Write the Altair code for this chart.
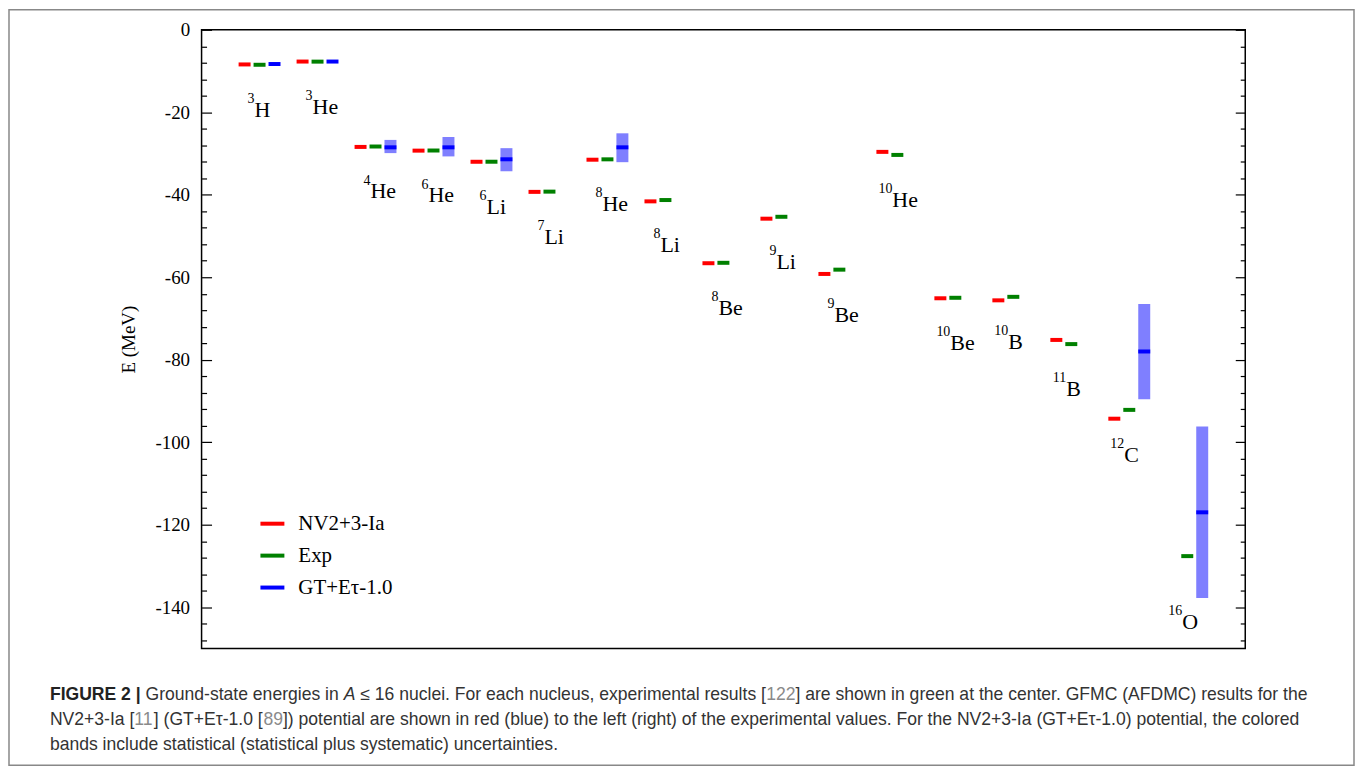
import altair as alt
import pandas as pd

# ---------------- data ----------------
mass_numbers = ["3", "3", "4", "6", "6", "7", "8", "8", "8", "9", "9", "10", "10", "10", "11", "12", "16"]
elements = ["H", "He", "He", "He", "Li", "Li", "He", "Li", "Be", "Li", "Be", "He", "Be", "B", "B", "C", "O"]

e_nv = [-8.4, -7.7, -28.4, -29.3, -32.0, -39.3, -31.5, -41.6, -56.6, -45.8, -59.2,
        -29.6, -65.1, -65.6, -75.2, -94.3, None]
e_exp = [-8.48, -7.72, -28.30, -29.27, -31.99, -39.24, -31.41, -41.28, -56.50, -45.34, -58.16,
         -30.34, -64.98, -64.75, -76.21, -92.16, -127.62]
e_gt = [-8.3, -7.7, -28.5, -28.5, -31.4, None, -28.5, None, None, None, None,
        None, None, None, None, -78.0, -117.0]
gt_band_hi = [None, None, -26.7, -26.0, -28.7, None, -25.1, None, None, None, None,
              None, None, None, None, -66.5, -96.2]
gt_band_lo = [None, None, -29.9, -30.7, -34.3, None, -32.1, None, None, None, None,
              None, None, None, None, -89.6, -137.8]

series_names = ["NV2+3-Ia", "Exp", "GT+Eτ-1.0"]
series_colors = ["#ff0000", "#008000", "#0000ff"]

y_major = list(range(-140, 1, 20))
y_ticks = list(range(-148, 1, 4))

# caption: list of lines, each a list of (text, style) segments
caption = [
    [("FIGURE 2 |", "bold"), (" Ground-state energies in ", "n"), ("A", "it"),
     (" ≤ 16 nuclei. For each nucleus, experimental results [", "n"), ("122", "ref"),
     ("] are shown in green at the center. GFMC (AFDMC) results for the", "n")],
    [("NV2+3-Ia [", "n"), ("11", "ref"), ("] (GT+Eτ-1.0 [", "n"), ("89", "ref"),
     ("]) potential are shown in red (blue) to the left (right) of the experimental values. "
      "For the NV2+3-Ia (GT+Eτ-1.0) potential, the colored", "n")],
    [("bands include statistical (statistical plus systematic) uncertainties.", "n")],
]

# ---------------- layout constants ----------------
W, H = 1046, 620
SERIF = "Liberation Serif"
SANS = "Liberation Sans"
offsets = {"NV2+3-Ia": -0.258, "Exp": 0.0, "GT+Eτ-1.0": 0.258}
half = 0.1033

# Liberation Sans (Arial-compatible) advance widths, per 1000 em
_w = {" ": 278, "a": 556, "b": 556, "c": 500, "d": 556, "e": 556, "f": 278, "g": 556, "h": 556,
      "i": 222, "j": 222, "k": 500, "l": 222, "m": 833, "n": 556, "o": 556, "p": 556, "q": 556,
      "r": 333, "s": 500, "t": 278, "u": 556, "v": 500, "w": 722, "x": 500, "y": 500, "z": 500,
      "A": 667, "B": 667, "C": 722, "D": 722, "E": 667, "F": 611, "G": 778, "H": 722, "I": 278,
      "M": 833, "N": 722, "R": 722, "U": 722, "V": 667, "T": 611, "S": 667, "O": 778,
      ".": 278, ",": 278, "(": 333, ")": 333, "[": 278, "]": 278, "-": 333, "+": 584,
      "≤": 549, "τ": 430, "|": 260}
_wb = dict(_w, **{"I": 278, "G": 778, "U": 722, "R": 722, "E": 667, "F": 611, " ": 278, "|": 280})
for d in "0123456789":
    _w[d] = 556
    _wb[d] = 556


def text_width(s, size, bold=False):
    table = _wb if bold else _w
    return sum(table.get(ch, 556) for ch in s) * size / 1000.0


CAP_SIZE = 17.6
CAP_X = -152
CAP_Y = [672, 697, 722]

seg_rows = []
for j, line in enumerate(caption):
    x = CAP_X
    for txt, style in line:
        lead = len(txt) - len(txt.lstrip(" "))
        x_draw = x + text_width(" " * lead, CAP_SIZE, style == "bold")
        seg_rows.append({"t": txt.strip(" "), "x": x_draw, "y": CAP_Y[j], "style": style})
        x += text_width(txt, CAP_SIZE, style == "bold")

# ---------------- tables ----------------
rows = []
for i in range(len(elements)):
    for name, vals in zip(series_names, [e_nv, e_exp, e_gt]):
        v = vals[i]
        if v is None:
            continue
        c = i + 1 + offsets[name]
        rows.append({"nucleus": mass_numbers[i] + elements[i], "series": name,
                     "E": v, "x1": c - half, "x2": c + half})
dashes = pd.DataFrame(rows)

brows = []
for i in range(len(elements)):
    if gt_band_lo[i] is None:
        continue
    c = i + 1 + offsets["GT+Eτ-1.0"]
    brows.append({"lo": gt_band_lo[i], "hi": gt_band_hi[i], "x1": c - half, "x2": c + half})
bands = pd.DataFrame(brows)

lrows = []
for i in range(len(elements)):
    ly = e_exp[i] - 12.6
    if elements[i] == "O":
        ly = gt_band_lo[i] - 7.6
    lrows.append({"x": i + 1, "y": ly, "mass": mass_numbers[i], "el": elements[i]})
labels = pd.DataFrame(lrows)

xscale = alt.Scale(domain=[0, 18], nice=False, zero=False)
yscale = alt.Scale(domain=[-150, 0], nice=False, zero=False)
tick_size = {"condition": {"test": "datum.value % 20 === 0", "value": 10}, "value": 5}

axis_labels = alt.Axis(values=y_major, ticks=False, domain=False, grid=False,
                       labelPadding=12, labelExpr="'' + datum.value",
                       labelFont=SERIF, labelFontSize=19, labelColor="black",
                       title="E (MeV)", titleFont=SERIF, titleFontSize=19,
                       titleFontWeight="normal", titleColor="black", titlePadding=16)
axis_left_ticks = alt.Axis(orient="right", offset=-W, values=y_ticks, labels=False,
                           domain=False, grid=False, title=None, tickSize=tick_size,
                           tickColor="black", tickWidth=1.2)
axis_right_ticks = alt.Axis(orient="left", offset=-W, values=y_ticks, labels=False,
                            domain=False, grid=False, title=None, tickSize=tick_size,
                            tickColor="black", tickWidth=1.2)

band_layer = alt.Chart(bands).mark_rect(color="#0000ff", opacity=0.5).encode(
    x=alt.X("x1:Q", scale=xscale, axis=None),
    x2="x2:Q",
    y=alt.Y("lo:Q", scale=yscale, axis=axis_labels),
    y2="hi:Q",
)

dash_layer = alt.Chart(dashes).mark_rule(strokeWidth=4).encode(
    x=alt.X("x1:Q", scale=xscale, axis=None),
    x2="x2:Q",
    y=alt.Y("E:Q", scale=yscale, axis=axis_left_ticks),
    color=alt.Color("series:N", scale=alt.Scale(domain=series_names, range=series_colors),
                    legend=alt.Legend(title=None, orient="none", legendX=57, legendY=481,
                                      symbolType="stroke", symbolStrokeWidth=4, symbolSize=576,
                                      labelFont=SERIF, labelFontSize=21, labelColor="black",
                                      labelOffset=12, rowPadding=8, padding=0)),
)

el_layer = alt.Chart(labels).mark_text(font=SERIF, fontSize=22, align="left",
                                       baseline="alphabetic", dx=-5, color="black").encode(
    x=alt.X("x:Q", scale=xscale, axis=None),
    y=alt.Y("y:Q", scale=yscale, axis=axis_right_ticks),
    text="el:N",
)

mass_layer = alt.Chart(labels).mark_text(font=SERIF, fontSize=14, align="right",
                                         baseline="alphabetic", dx=-5, dy=-14, color="black").encode(
    x=alt.X("x:Q", scale=xscale, axis=None),
    y=alt.Y("y:Q", scale=yscale, axis=None),
    text="mass:N",
)

one = pd.DataFrame({"k": [0]})
frame = alt.Chart(one).mark_rect(fillOpacity=0, stroke="#888888", strokeWidth=1.5).encode(
    x=alt.value(-193), x2=alt.value(1155), y=alt.value(-20), y2=alt.value(737),
)

segs = pd.DataFrame(seg_rows)
cap_layers = []
for style, props in [("n", {}), ("bold", {"fontWeight": "bold"}), ("it", {"fontStyle": "italic"}),
                     ("ref", {})]:
    col = "#222222" if style == "bold" else ("#8a8a8a" if style == "ref" else "#333333")
    cap_layers.append(
        alt.Chart(segs).transform_filter(alt.datum.style == style).mark_text(
            font=SANS, fontSize=CAP_SIZE, align="left", baseline="alphabetic", color=col, **props
        ).encode(
            x=alt.X("x:Q", scale=None, axis=None),
            y=alt.Y("y:Q", scale=None, axis=None),
            text="t:N",
        )
    )

chart = alt.layer(band_layer, dash_layer, el_layer, mass_layer, frame, *cap_layers).resolve_axis(
    y="independent"
).resolve_scale(
    x="independent", y="independent"
).properties(width=W, height=H, padding=0).configure_view(stroke="black", strokeWidth=1.5)

chart.save("out.html", embed_options={"renderer": "svg", "actions": False})
